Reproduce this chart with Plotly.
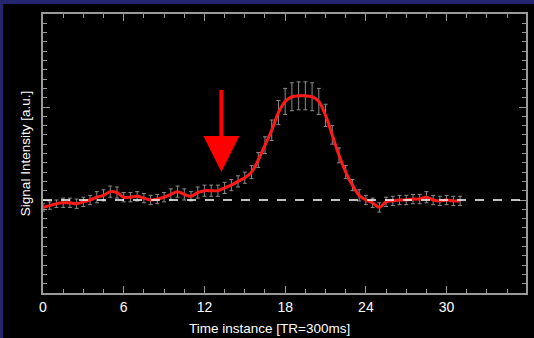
import plotly.graph_objects as go

# time points (TR index) and mean signal with error
t = [i * 0.5 for i in range(63)]
signal = [
    0.92, 0.94, 0.96, 0.97, 0.97, 0.96, 0.98, 1.00, 1.03, 1.05,
    1.09, 1.08, 1.03, 1.03, 1.04, 1.02, 1.00, 1.01, 1.03, 1.06,
    1.09, 1.06, 1.04, 1.08, 1.10, 1.10, 1.10, 1.13, 1.16, 1.20,
    1.24, 1.30, 1.43, 1.59, 1.75, 1.94, 2.06, 2.11, 2.12, 2.12,
    2.11, 2.06, 1.91, 1.70, 1.48, 1.30, 1.16, 1.05, 1.00, 0.97,
    0.92, 0.98, 0.99, 1.00, 1.00, 1.01, 1.01, 1.03, 1.00, 0.99,
    1.00, 0.99, 0.99,
]
error = [
    0.04, 0.04, 0.04, 0.05, 0.05, 0.05, 0.05, 0.05, 0.06, 0.06,
    0.06, 0.06, 0.05, 0.05, 0.05, 0.05, 0.05, 0.05, 0.05, 0.06,
    0.06, 0.06, 0.05, 0.06, 0.06, 0.06, 0.06, 0.06, 0.06, 0.06,
    0.06, 0.07, 0.08, 0.09, 0.11, 0.13, 0.14, 0.15, 0.15, 0.15,
    0.15, 0.14, 0.12, 0.10, 0.08, 0.07, 0.06, 0.06, 0.05, 0.05,
    0.05, 0.05, 0.05, 0.05, 0.05, 0.05, 0.05, 0.06, 0.05, 0.05,
    0.05, 0.05, 0.05,
]
baseline = 1.0
x_ticks = [0, 6, 12, 18, 24, 30]

navy = "#26266e"
frame = "#9a9a9a"

fig = go.Figure()
fig.add_trace(go.Scatter(
    x=t, y=signal, mode="lines",
    line=dict(color="#ff1a1a", width=3, shape="spline", smoothing=1.0),
    error_y=dict(type="data", array=error, color="#8c8c8c", thickness=1, width=2),
    showlegend=False,
))

fig.add_shape(type="line", xref="paper", yref="y", x0=0, x1=1, y0=baseline, y1=baseline,
              line=dict(color="white", width=1.5, dash="dash"))

# navy border strips (left and top)
fig.add_shape(type="rect", xref="paper", yref="paper", x0=-0.2, x1=-40 / 485,
              y0=-0.3, y1=1.3, fillcolor=navy, line_width=0, layer="below")
fig.add_shape(type="rect", xref="paper", yref="paper", x0=-0.2, x1=1.1,
              y0=289 / 279, y1=1.3, fillcolor=navy, line_width=0, layer="below")

fig.add_annotation(x=13.26, y=1.30, ax=13.26, ay=2.2, xref="x", yref="y", axref="x", ayref="y",
                   showarrow=True, arrowhead=2, arrowsize=1.8, arrowwidth=4, arrowcolor="#ff0000", text="")

fig.add_annotation(x=(270 - 43) / 485, y=-0.093, xref="paper", yref="paper", yanchor="top",
                   text="Time instance [TR=300ms]", showarrow=False,
                   font=dict(color="white", size=13.5))

axis_common = dict(showline=True, linecolor=frame, linewidth=1.5, mirror="allticks",
                   ticks="inside", ticklen=7, tickcolor=frame, showgrid=False, zeroline=False)

fig.update_xaxes(range=[0, 35.9], tickvals=x_ticks, ticktext=[str(v) for v in x_ticks],
                 tickfont=dict(color="white", size=14),
                 minor=dict(dtick=1.5, tick0=0, ticks="inside", ticklen=4, tickcolor=frame),
                 **axis_common)
fig.update_yaxes(range=[0, 3], dtick=1, tick0=0, showticklabels=False,
                 title=dict(text="Signal Intensity [a.u.]", font=dict(color="white", size=13.5), standoff=8),
                 minor=dict(dtick=0.1, tick0=0, ticks="inside", ticklen=4, tickcolor=frame),
                 **axis_common)

fig.update_layout(
    width=534, height=338,
    margin=dict(l=43, r=6, t=14, b=45),
    paper_bgcolor="black", plot_bgcolor="black",
    font=dict(family="Liberation Sans, Arial, sans-serif", color="white"),
)

fig.write_html("out.html", config={"displayModeBar": False},
               post_script="document.body.style.margin='0';")
